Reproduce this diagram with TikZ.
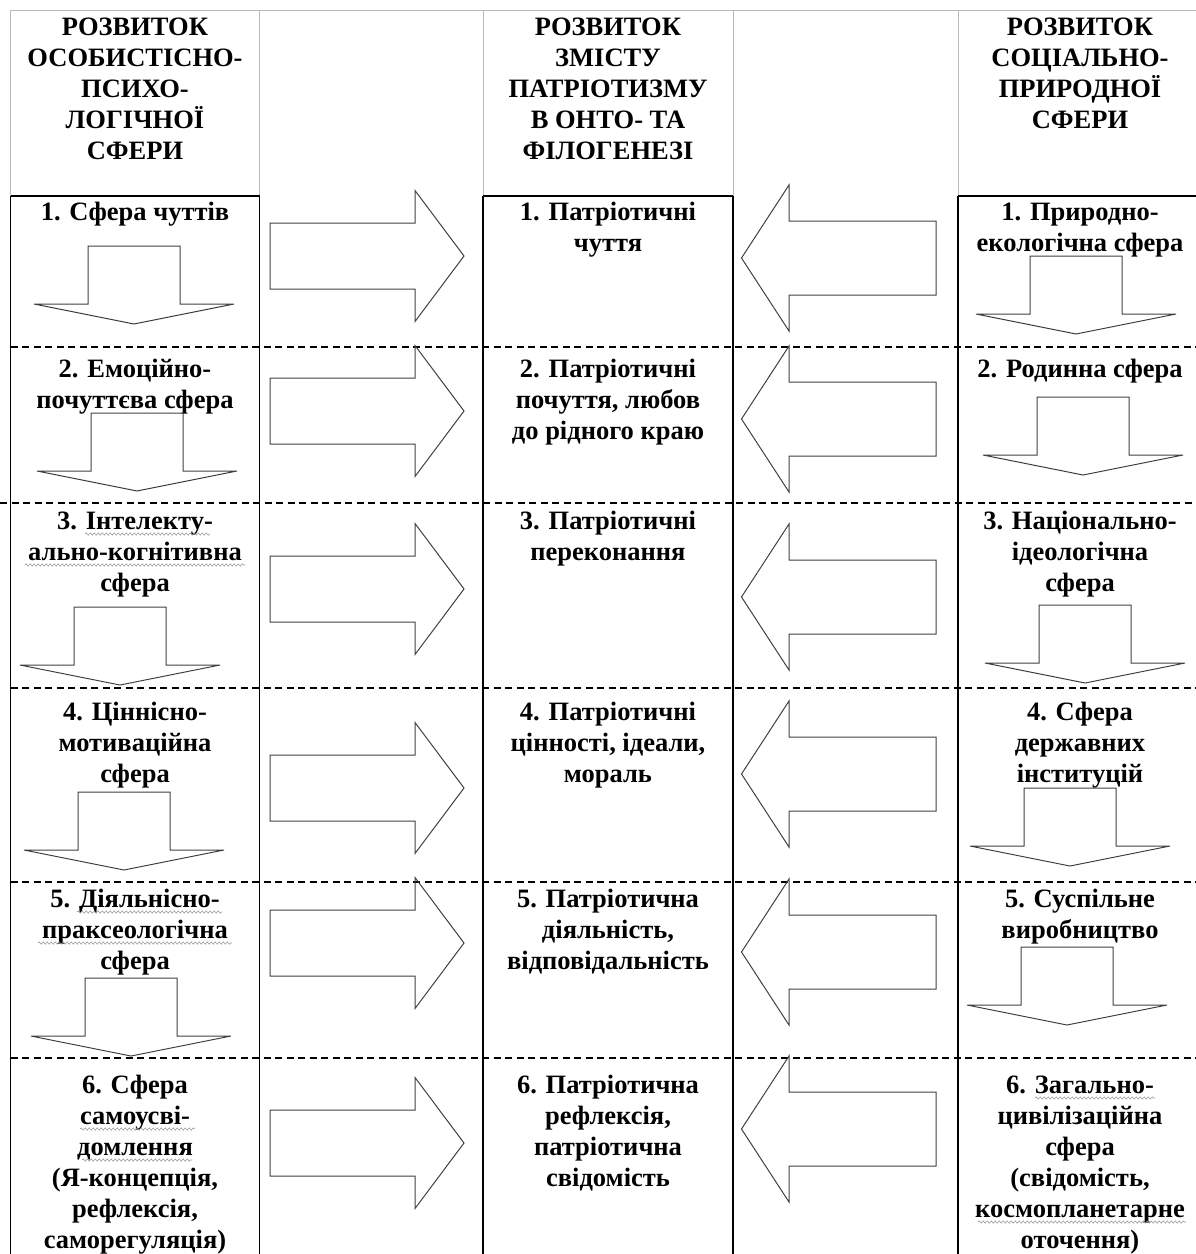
\documentclass[tikz,border=0pt]{standalone}
\usepackage{fontspec}
\setmainfont{Liberation Serif}
\usepackage{xcolor}
\usepackage{tikz}
\usetikzlibrary{decorations.pathmorphing}

\begin{document}
\begin{tikzpicture}[x=1pt, y=-1pt,
    cell/.style={anchor=north, align=center, inner sep=0pt, font=\bfseries\fontsize{26.5}{31}\selectfont},
    head/.style={line width=1pt, draw=gray!55},
    grid/.style={line width=1.3pt},
    sep/.style={line width=1.2pt, dash pattern=on 7pt off 4.5pt},
    block/.style={line width=1pt, draw=black!75},
    spell/.style={draw=gray!80, line width=0.6pt, decorate, decoration={snake, amplitude=1.1pt, segment length=4pt}},
    darrow/.pic={\draw[block] (-46,0) -- (46,0) -- (46,58) -- (100,58) -- (0,78) -- (-100,58) -- (-46,58) -- cycle;},
    rarrow/.pic={\draw[block] (0,-33) -- (145,-33) -- (145,-65.5) -- (194,0) -- (145,65.5) -- (145,33) -- (0,33) -- cycle;},
    larrow/.pic={\draw[block] (0,-37) -- (-147,-37) -- (-147,-73) -- (-194.5,0) -- (-147,73) -- (-147,37) -- (0,37) -- cycle;}]
    \useasboundingbox (0,0) rectangle (1196,1254);

    \draw[head] (10.5,196) -- (10.5,10) -- (1196,10);
    \foreach \x in {259.5,483,733,958}
        \draw[head] (\x,10) -- (\x,196);
    \draw[grid] (10.5,196) -- (259.5,196) (483,196) -- (733,196) (958,196) -- (1196,196);
    \foreach \x in {10.5,259.5,483,733,958}
        \draw[grid] (\x,196) -- (\x,1254);

    \draw[sep] (10.5,347) -- (1196,347);
    \draw[sep] (0,503) -- (1196,503);
    \draw[sep] (10.5,688) -- (1196,688);
    \draw[sep] (10.5,882) -- (1196,882);
    \draw[sep] (10.5,1058) -- (1196,1058);

    \node[cell] (h1) at (135,13.3) {\strut РОЗВИТОК\\ОСОБИСТІСНО-\\ПСИХО-\\ЛОГІЧНОЇ\\СФЕРИ};
    \node[cell] (h3) at (608,13.3) {\strut РОЗВИТОК\\ЗМІСТУ\\ПАТРІОТИЗМУ\\В ОНТО- ТА\\ФІЛОГЕНЕЗІ};
    \node[cell] (h5) at (1080,13.3) {\strut РОЗВИТОК\\СОЦІАЛЬНО-\\ПРИРОДНОЇ\\СФЕРИ};

    \node[cell] (l1) at (135,198.3) {\strut 1. Сфера чуттів};
    \node[cell] (l2) at (135,355.3) {\strut 2. Емоційно-\\почуттєва сфера};
    \node[cell] (l3) at (135,507.3) {\strut 3. Інтелекту-\\ально-когнітивна\\сфера};
    \node[cell] (l4) at (135,698.3) {\strut 4. Ціннісно-\\мотиваційна\\сфера};
    \node[cell] (l5) at (135,885.3) {\strut 5. Діяльнісно-\\праксеологічна\\сфера};
    \node[cell] (l6) at (135,1071.3) {\strut 6. Сфера\\самоусві-\\домлення\\(Я-концепція,\\рефлексія,\\саморегуляція)};

    \node[cell] (m1) at (608,198.3) {\strut 1. Патріотичні\\чуття};
    \node[cell] (m2) at (608,355.3) {\strut 2. Патріотичні\\почуття, любов\\до рідного краю};
    \node[cell] (m3) at (608,507.3) {\strut 3. Патріотичні\\переконання};
    \node[cell] (m4) at (608,698.3) {\strut 4. Патріотичні\\цінності, ідеали,\\мораль};
    \node[cell] (m5) at (608,885.3) {\strut 5. Патріотична\\діяльність,\\відповідальність};
    \node[cell] (m6) at (608,1071.3) {\strut 6. Патріотична\\рефлексія,\\патріотична\\свідомість};

    \node[cell] (r1) at (1080,198.3) {\strut 1. Природно-\\екологічна сфера};
    \node[cell] (r2) at (1080,355.3) {\strut 2. Родинна сфера};
    \node[cell] (r3) at (1080,507.3) {\strut 3. Національно-\\ідеологічна\\сфера};
    \node[cell] (r4) at (1080,698.3) {\strut 4. Сфера\\державних\\інституцій};
    \node[cell] (r5) at (1080,885.3) {\strut 5. Суспільне\\виробництво};
    \node[cell] (r6) at (1080,1071.3) {\strut 6. Загально-\\цивілізаційна\\сфера\\(свідомість,\\космопланетарне\\оточення)};

    \draw[spell] (85,534) -- (210,534);
    \draw[spell] (25,565) -- (245,565);
    \draw[spell] (77,912) -- (222,912);
    \draw[spell] (38,943) -- (232,943);
    \draw[spell] (80,1129) -- (195,1129);
    \draw[spell] (82,1160) -- (192,1160);
    \draw[spell] (1035,1098) -- (1155,1098);
    \draw[spell] (978,1222) -- (1186,1222);

    \pic at (134,246) {darrow};
    \pic at (137,413) {darrow};
    \pic at (120,607) {darrow};
    \pic at (124,792) {darrow};
    \pic at (131,978) {darrow};

    \pic at (1076,256) {darrow};
    \pic at (1083,397) {darrow};
    \pic at (1085,605) {darrow};
    \pic at (1070,788) {darrow};
    \pic at (1067,947) {darrow};

    \pic at (270,256) {rarrow};
    \pic at (270,411) {rarrow};
    \pic at (270,589) {rarrow};
    \pic at (270,788) {rarrow};
    \pic at (270,943) {rarrow};
    \pic at (270,1143) {rarrow};

    \pic at (936,258) {larrow};
    \pic at (936,419) {larrow};
    \pic at (936,597) {larrow};
    \pic at (936,774) {larrow};
    \pic at (936,952) {larrow};
    \pic at (936,1129) {larrow};
\end{tikzpicture}
\end{document}
